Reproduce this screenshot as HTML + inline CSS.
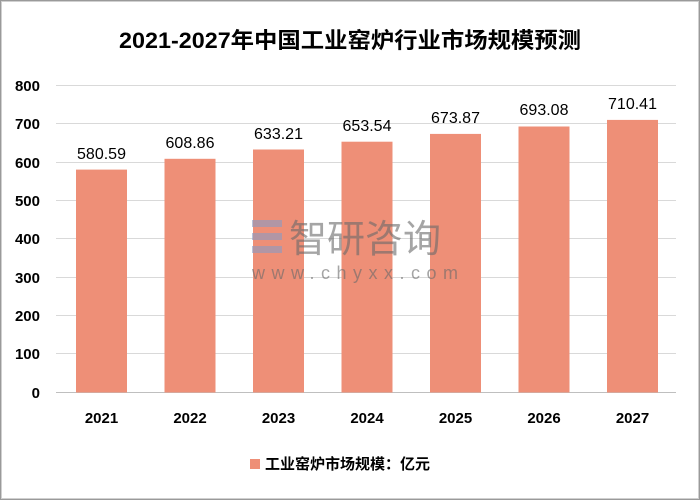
<!DOCTYPE html>
<html><head><meta charset="utf-8"><style>
html,body{margin:0;padding:0;background:#fff;}
svg{display:block;font-family:"Liberation Sans","Noto Sans CJK SC",sans-serif;}
</style></head><body>
<svg width="700" height="500" viewBox="0 0 700 500" xmlns="http://www.w3.org/2000/svg">
<rect x="0.5" y="0.5" width="699" height="499" fill="#fff" stroke="#9a9a9a" stroke-width="1"/>
<rect x="1.5" y="1.5" width="697" height="497" fill="none" stroke="#d0d0d0" stroke-width="1"/>
<text x="350" y="48" text-anchor="middle" font-size="22" font-weight="bold" fill="#000" textLength="462" lengthAdjust="spacingAndGlyphs">2021-2027年中国工业窑炉行业市场规模预测</text>
<g stroke="#d9d9d9" stroke-width="1">
<line x1="56" x2="676" y1="85.5" y2="85.5"/>
<line x1="56" x2="676" y1="123.5" y2="123.5"/>
<line x1="56" x2="676" y1="162.5" y2="162.5"/>
<line x1="56" x2="676" y1="200.5" y2="200.5"/>
<line x1="56" x2="676" y1="238.5" y2="238.5"/>
<line x1="56" x2="676" y1="277.5" y2="277.5"/>
<line x1="56" x2="676" y1="315.5" y2="315.5"/>
<line x1="56" x2="676" y1="353.5" y2="353.5"/>
</g>
<line x1="56" x2="676" y1="392.5" y2="392.5" stroke="#bfbfbf"/>
<g font-size="15" font-weight="bold" fill="#000" text-anchor="end">
<text x="40" y="91">800</text><text x="40" y="129">700</text><text x="40" y="168">600</text><text x="40" y="206">500</text>
<text x="40" y="244">400</text><text x="40" y="283">300</text><text x="40" y="321">200</text><text x="40" y="359">100</text><text x="40" y="398">0</text>
</g>
<g fill="#EE8F77">
<rect x="76" y="169.6" width="51" height="222.9"/>
<rect x="164.5" y="158.8" width="51" height="233.7"/>
<rect x="253" y="149.5" width="51" height="243"/>
<rect x="341.5" y="141.7" width="51" height="250.8"/>
<rect x="430" y="133.9" width="51" height="258.6"/>
<rect x="518.5" y="126.5" width="51" height="266"/>
<rect x="607" y="119.9" width="51" height="272.6"/>
</g>
<g opacity="0.6">
<rect x="252" y="220" width="30" height="7" fill="#8a9cc4"/>
<rect x="252" y="233" width="30" height="7" fill="#8a9cc4"/>
<rect x="252" y="246" width="30" height="7" fill="#8a9cc4"/>
<text x="289" y="252" font-size="38" fill="#6a6a6a">智研咨询</text>
<text x="252" y="279" font-size="18" fill="#6a6a6a" letter-spacing="6.5">www.chyxx.com</text>
</g>
<g font-size="16" fill="#000" text-anchor="middle">
<text x="101.5" y="159">580.59</text>
<text x="190" y="148">608.86</text>
<text x="278.5" y="139">633.21</text>
<text x="367" y="131">653.54</text>
<text x="455.5" y="123">673.87</text>
<text x="544" y="115">693.08</text>
<text x="632.5" y="109">710.41</text>
</g>
<g font-size="15" font-weight="bold" fill="#000" text-anchor="middle">
<text x="101.5" y="423">2021</text><text x="190" y="423">2022</text><text x="278.5" y="423">2023</text>
<text x="367" y="423">2024</text><text x="455.5" y="423">2025</text><text x="544" y="423">2026</text><text x="632.5" y="423">2027</text>
</g>
<rect x="250" y="459" width="10" height="10" fill="#EE8F77"/>
<text x="265" y="469" font-size="15" font-weight="bold" fill="#000">工业窑炉市场规模：亿元</text>
</svg>
</body></html>
